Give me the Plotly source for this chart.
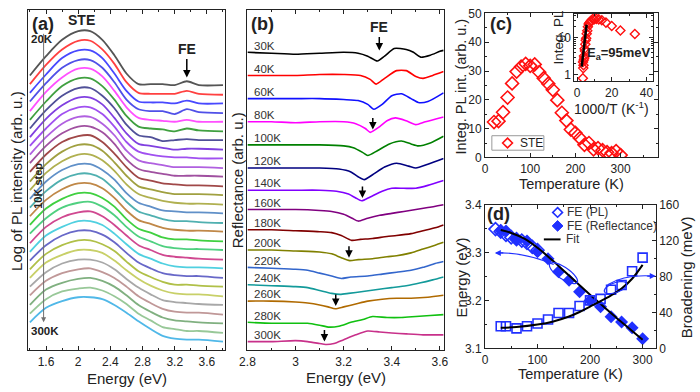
import plotly.graph_objects as go
import numpy as np

FONT = "Liberation Sans, Arial, sans-serif"
W, H = 700, 392

# ---------------- (a) PL spectra (log scale, arb. units, offset) ----------------
E_PL = [1.4, 1.6, 1.8, 2.0, 2.15, 2.3, 2.45, 2.6, 2.75, 2.9, 3.05, 3.2, 3.35, 3.5, 3.8]
T_PL = list(range(20, 301, 10))
PL_LOG = [
    [285, 305, 322, 331, 331, 322, 306, 287, 276, 276, 276, 275, 279, 275, 275],
    [276, 296, 312, 321, 321, 312, 297, 278, 267, 266, 266, 266, 269, 266, 265],
    [267, 286, 303, 311, 311, 303, 287, 269, 258, 257, 257, 256, 259, 256, 256],
    [258, 277, 293, 301, 301, 293, 278, 260, 250, 248, 248, 245, 250, 247, 246],
    [248, 268, 283, 292, 292, 284, 269, 252, 241, 239, 238, 237, 239, 237, 237],
    [239, 258, 274, 282, 282, 274, 260, 243, 232, 230, 229, 227, 230, 228, 227],
    [230, 249, 264, 272, 272, 264, 251, 234, 223, 221, 217, 218, 219, 218, 218],
    [221, 240, 254, 262, 262, 255, 241, 225, 214, 212, 210, 208, 209, 209, 208],
    [212, 230, 245, 252, 252, 245, 232, 216, 206, 203, 201, 200, 200, 199, 199],
    [203, 221, 235, 242, 242, 235, 223, 207, 197, 194, 192, 190, 190, 190, 189],
    [194, 212, 225, 232, 232, 226, 214, 198, 188, 185, 183, 181, 181, 181, 180],
    [185, 203, 216, 222, 223, 216, 204, 190, 179, 176, 173, 172, 171, 171, 170],
    [175, 193, 206, 213, 213, 207, 195, 181, 170, 167, 164, 162, 162, 162, 161],
    [166, 184, 196, 203, 203, 197, 186, 172, 162, 158, 155, 153, 152, 152, 151],
    [157, 175, 187, 193, 193, 187, 177, 163, 153, 149, 145, 144, 143, 143, 142],
    [148, 165, 177, 183, 183, 178, 167, 154, 144, 140, 136, 134, 134, 133, 132],
    [139, 156, 167, 173, 173, 168, 158, 145, 135, 131, 127, 125, 124, 124, 123],
    [130, 147, 157, 163, 163, 158, 149, 136, 126, 122, 117, 115, 115, 114, 113],
    [121, 137, 148, 153, 154, 149, 140, 128, 118, 113, 108, 106, 105, 105, 104],
    [111, 128, 138, 143, 144, 139, 130, 119, 109, 104, 99, 97, 96, 95, 94],
    [102, 119, 128, 134, 134, 130, 121, 110, 100, 95, 90, 87, 86, 86, 85],
    [93, 109, 119, 124, 124, 120, 112, 101, 91, 85, 80, 78, 77, 77, 75],
    [84, 100, 109, 114, 114, 110, 103, 92, 82, 76, 71, 68, 68, 67, 66],
    [75, 91, 99, 104, 104, 101, 93, 83, 74, 67, 62, 59, 58, 58, 56],
    [66, 81, 90, 94, 94, 91, 84, 74, 65, 58, 52, 50, 49, 48, 47],
    [57, 72, 80, 84, 85, 81, 75, 66, 56, 49, 43, 40, 39, 39, 37],
    [47, 63, 70, 74, 75, 72, 66, 57, 47, 40, 34, 31, 30, 29, 28],
    [38, 53, 61, 64, 65, 62, 56, 48, 38, 31, 24, 22, 20, 20, 18],
    [29, 44, 51, 55, 55, 53, 47, 39, 30, 22, 15, 12, 11, 11, 9],
]
PL_COLORS = ["#555555", "#ff4040", "#4848ff", "#5050e8", "#ff50ff", "#40a040", "#505098",
             "#8040e0", "#a050f0", "#b060e0", "#a050a0", "#a04848", "#a0a040", "#b0b050",
             "#6090c8", "#50b0b0", "#c08848", "#40d040", "#50d080", "#d04890", "#50d0e0",
             "#6868c8", "#b0c048", "#c8d068", "#a8a8a8", "#c09898", "#80b080", "#98c898",
             "#50b8e8"]

# ---------------- (b) Reflectance spectra ----------------
REFL_T = [30, 40, 60, 80, 100, 120, 140, 160, 180, 200, 220, 240, 260, 280, 300]
REFL_E = [
    [2.8, 2.9, 3.0, 3.1, 3.2, 3.26, 3.3, 3.34, 3.37, 3.41, 3.46, 3.49, 3.52, 3.56, 3.6, 3.615],
    [2.8, 2.9, 3.0, 3.1, 3.2, 3.27, 3.31, 3.335, 3.37, 3.42, 3.46, 3.5, 3.53, 3.57, 3.615],
    [2.8, 2.9, 3.0, 3.1, 3.2, 3.26, 3.3, 3.325, 3.36, 3.4, 3.44, 3.48, 3.51, 3.55, 3.615],
    [2.8, 2.9, 3.0, 3.1, 3.2, 3.25, 3.29, 3.31, 3.35, 3.38, 3.415, 3.46, 3.5, 3.54, 3.615],
    [2.8, 2.9, 3.0, 3.1, 3.2, 3.24, 3.28, 3.3, 3.34, 3.39, 3.44, 3.48, 3.51, 3.56, 3.615],
    [2.8, 2.9, 3.0, 3.1, 3.18, 3.23, 3.26, 3.286, 3.32, 3.37, 3.42, 3.47, 3.5, 3.55, 3.615],
    [2.8, 2.9, 3.0, 3.1, 3.17, 3.22, 3.25, 3.275, 3.31, 3.36, 3.4, 3.45, 3.5, 3.55, 3.615],
    [2.8, 2.9, 3.0, 3.1, 3.15, 3.2, 3.235, 3.26, 3.3, 3.35, 3.4, 3.45, 3.5, 3.55, 3.615],
    [2.8, 2.9, 3.0, 3.1, 3.15, 3.19, 3.233, 3.27, 3.32, 3.38, 3.42, 3.48, 3.53, 3.58, 3.615],
    [2.8, 2.9, 3.0, 3.1, 3.15, 3.19, 3.225, 3.26, 3.32, 3.38, 3.42, 3.48, 3.53, 3.58, 3.615],
    [2.8, 2.9, 3.0, 3.05, 3.1, 3.15, 3.19, 3.23, 3.3, 3.36, 3.42, 3.48, 3.53, 3.58, 3.615],
    [2.8, 2.9, 3.0, 3.05, 3.1, 3.15, 3.185, 3.22, 3.28, 3.34, 3.4, 3.46, 3.52, 3.57, 3.615],
    [2.8, 2.9, 3.0, 3.05, 3.1, 3.135, 3.165, 3.2, 3.25, 3.3, 3.36, 3.42, 3.48, 3.55, 3.615],
    [2.8, 2.9, 3.0, 3.05, 3.1, 3.14, 3.18, 3.23, 3.28, 3.32, 3.38, 3.44, 3.5, 3.56, 3.615],
    [2.8, 2.9, 3.0, 3.05, 3.1, 3.125, 3.16, 3.2, 3.25, 3.3, 3.35, 3.4, 3.46, 3.53, 3.615],
]
REFL_Y = [
    [309, 308, 307, 308, 309, 308, 305, 300, 305, 313, 312, 309, 304, 306, 310, 311],
    [285, 285, 285, 286, 286, 285, 281, 276, 282, 290, 290, 284, 282, 285, 289],
    [261, 261, 261, 261, 260, 259, 255, 250, 255, 264, 266, 261, 257, 258, 267],
    [237, 237, 236, 237, 237, 235, 230, 226, 232, 238, 241, 238, 234, 237, 242],
    [213, 213, 213, 213, 212, 210, 205, 202, 207, 214, 217, 214, 212, 215, 222],
    [189, 189, 189, 189, 188, 185, 180, 177, 182, 190, 194, 191, 189, 193, 199],
    [166, 166, 166, 166, 165, 162, 158, 155, 159, 165, 168, 168, 168, 171, 176],
    [146, 146, 146, 145, 144, 141, 137, 134, 137, 140, 142, 144, 146, 148, 151],
    [125, 125, 124, 123, 122, 119, 114, 115, 116, 118, 119, 121, 124, 127, 130],
    [104, 104, 103, 102, 100, 96, 93, 94, 95, 97, 98, 101, 105, 109, 112],
    [86, 85, 84, 83, 80, 77, 74.5, 76, 77, 79, 81, 83, 86, 90, 92],
    [68, 67, 66, 65, 62, 59, 58, 59, 61, 63, 65, 67, 70, 73, 76],
    [51, 51, 50, 49, 47, 45, 43, 45, 48, 51, 53, 54, 54, 55, 57],
    [29, 28, 28, 28, 26, 24, 25, 29, 32, 35, 34, 34, 35, 36, 37],
    [9, 9, 10, 9, 7, 6, 7, 11, 16, 20, 19, 18, 17, 16, 16],
]
REFL_COLORS = ["#000000", "#ff0000", "#1010ff", "#ff00ff", "#008000", "#000080", "#8000ff",
               "#800080", "#800000", "#808000", "#3366cc", "#139a9a", "#b06a00", "#10c010",
               "#c8308a"]
REFL_ARROW_IDX = [3, 6, 9, 12, 14]
REFL_ARROW_E = [3.321, 3.278, 3.222, 3.167, 3.12]

# ---------------- (c) integrated STE PL ----------------
STE = [12.3, 12.6, 15.7, 20.8, 25.7, 29.8, 31.5, 32.5, 31.8, 32.3, 29.6, 27.5, 25.6, 23.5,
       19.9, 15.5, 12.8, 9.7, 8.5, 6.7, 4.4, 5.0, 2.8, 3.2, 2.5, 1.8, 1.5, 2.2, 0.8]
FIT_INV_T = [2.7, 5.5]
FIT_INT = [1.65, 22.5]

# ---------------- (d) FE energy and broadening ----------------
T_FE_PL = [20, 30, 40, 50, 60, 70, 80, 90, 100]
E_FE_PL = [3.349, 3.344, 3.337, 3.332, 3.328, 3.325, 3.320, 3.312, 3.305]
T_FE_R = REFL_T
E_FE_R = [3.346, 3.345, 3.328, 3.324, 3.302, 3.287, 3.260, 3.242, 3.218, 3.200, 3.187,
          3.166, 3.155, 3.143, 3.120]
BROAD = [24.7, 24.7, 22.2, 24.7, 27.6, 32.2, 39.4, 39.4, 47.2, 53.4, 55.1, 65.2, 70.5, 85.9, 101]
T_FIT = [30, 50, 75, 100, 125, 150, 175, 200, 225, 250, 275, 300]
E_FIT = [3.347, 3.341, 3.329, 3.310, 3.287, 3.262, 3.237, 3.212, 3.188, 3.164, 3.141, 3.118]
T_BFIT = [30, 60, 100, 130, 160, 180, 200, 220, 240, 260, 280, 300]
B_FIT = [23, 23.8, 26.5, 30, 35.5, 40.5, 46.5, 52.5, 59, 66.5, 77.5, 93]

BLUE = "#2030ff"
RED = "#ff1010"
INK = "#222222"


def px(x, y):
    return x / W, 1 - y / H


def dom_x(a, b):
    return [a / W, b / W]


def dom_y(top, bottom):
    return [1 - bottom / H, 1 - top / H]


fig = go.Figure()

# (a)
for i in range(len(PL_LOG) - 1, -1, -1):
    fig.add_trace(go.Scatter(x=E_PL, y=PL_LOG[i], mode="lines",
                             line=dict(color=PL_COLORS[i], width=1.8, shape="spline", smoothing=0.8),
                             xaxis="x", yaxis="y", showlegend=False))
# (b)
for i in range(len(REFL_Y)):
    fig.add_trace(go.Scatter(x=REFL_E[i], y=REFL_Y[i], mode="lines",
                             line=dict(color=REFL_COLORS[i], width=1.6, shape="spline", smoothing=0.6),
                             xaxis="x2", yaxis="y2", showlegend=False))
# (c)
fig.add_trace(go.Scatter(x=T_PL, y=STE, mode="markers", name="STE",
                         marker=dict(symbol="diamond-open", size=10, color=RED, line=dict(width=1.6)),
                         xaxis="x3", yaxis="y3", showlegend=False))
fig.add_trace(go.Scatter(x=[1000.0 / t for t in T_PL], y=STE, mode="markers",
                         marker=dict(symbol="diamond-open", size=7, color=RED, line=dict(width=1.4)),
                         xaxis="x4", yaxis="y4", showlegend=False))
fig.add_trace(go.Scatter(x=FIT_INV_T, y=FIT_INT, mode="lines", line=dict(color="black", width=2.5),
                         xaxis="x4", yaxis="y4", showlegend=False))
# (d)
fig.add_trace(go.Scatter(x=T_FE_PL, y=E_FE_PL, mode="markers", name="FE (PL)",
                         marker=dict(symbol="diamond-open", size=10, color=BLUE, line=dict(width=1.6)),
                         xaxis="x5", yaxis="y5", showlegend=False))
fig.add_trace(go.Scatter(x=T_FE_R, y=E_FE_R, mode="markers", name="FE (Reflectance)",
                         marker=dict(symbol="diamond", size=10, color=BLUE),
                         xaxis="x5", yaxis="y5", showlegend=False))
fig.add_trace(go.Scatter(x=T_FIT, y=E_FIT, mode="lines", name="Fit",
                         line=dict(color="black", width=2, shape="spline"),
                         xaxis="x5", yaxis="y5", showlegend=False))
fig.add_trace(go.Scatter(x=T_FE_R, y=BROAD, mode="markers",
                         marker=dict(symbol="square-open", size=9, color=BLUE, line=dict(width=1.6)),
                         xaxis="x5", yaxis="y6", showlegend=False))
fig.add_trace(go.Scatter(x=T_BFIT, y=B_FIT, mode="lines",
                         line=dict(color="black", width=2, shape="spline"),
                         xaxis="x5", yaxis="y6", showlegend=False))

tickfont = dict(family=FONT, size=12, color=INK)
base = dict(showline=True, linecolor=INK, linewidth=1, ticks="inside", ticklen=4, tickcolor=INK,
            showgrid=False, zeroline=False, tickfont=tickfont)

fig.update_layout(
    width=W, height=H, margin=dict(l=0, r=0, t=0, b=0),
    paper_bgcolor="white", plot_bgcolor="white", showlegend=False,
    font=dict(family=FONT, color=INK),
    xaxis=dict(base, domain=dom_x(20.7, 220.7), range=[1.38, 3.82], dtick=0.4, tick0=1.6,
               mirror="ticks", anchor="y", minor=dict(ticks="inside", ticklen=2, dtick=0.2, tickcolor=INK)),
    yaxis=dict(base, domain=dom_y(3, 356), range=[0, 353], ticks="", showticklabels=False,
               mirror=True, anchor="x"),
    xaxis2=dict(base, domain=dom_x(244, 444), range=[2.8, 3.616], dtick=0.2, tick0=2.8,
                mirror="ticks", anchor="y2", minor=dict(ticks="inside", ticklen=2, dtick=0.1, tickcolor=INK)),
    yaxis2=dict(base, domain=dom_y(3, 356), range=[0, 353], ticks="", showticklabels=False,
                mirror=True, anchor="x2"),
    xaxis3=dict(base, domain=dom_x(486, 662), range=[0, 382], dtick=100, mirror="ticks", anchor="y3",
                minor=dict(ticks="inside", ticklen=2, dtick=50, tickcolor=INK)),
    yaxis3=dict(base, domain=dom_y(6.7, 156), range=[0, 50], dtick=10, mirror="ticks", anchor="x3",
                minor=dict(ticks="inside", ticklen=2, dtick=5, tickcolor=INK)),
    xaxis4=dict(base, domain=dom_x(577, 657), range=[-1.6, 43.7], dtick=20, mirror="ticks", anchor="y4",
                minor=dict(ticks="inside", ticklen=2, dtick=10, tickcolor=INK)),
    yaxis4=dict(base, domain=dom_y(7, 77), type="log", range=[-0.18, 1.65], tickvals=[1, 10],
                ticktext=["1", "10"], mirror="ticks", anchor="x4",
                minor=dict(ticks="inside", ticklen=2, tickcolor=INK,
                           tickvals=[2, 3, 4, 5, 6, 7, 8, 9, 20, 30, 40])),
    xaxis5=dict(base, domain=dom_x(486, 660), range=[0, 325], dtick=100, mirror="ticks", anchor="y5",
                minor=dict(ticks="inside", ticklen=2, dtick=50, tickcolor=INK)),
    yaxis5=dict(base, domain=dom_y(205, 354), range=[3.1, 3.4], dtick=0.1, tickformat=".1f", anchor="x5",
                minor=dict(ticks="inside", ticklen=2, dtick=0.05, tickcolor=INK)),
    yaxis6=dict(base, range=[0, 160], dtick=40, overlaying="y5", side="right", anchor="x5",
                minor=dict(ticks="inside", ticklen=2, dtick=20, tickcolor=INK)),
)

ann = []
shapes = []


def text(xp, yp, s, size=12, bold=False, angle=0, color=INK, xanchor="center"):
    x, y = px(xp, yp)
    ann.append(dict(x=x, y=y, xref="paper", yref="paper", text=("<b>%s</b>" % s) if bold else s,
                    showarrow=False, textangle=angle, xanchor=xanchor, yanchor="middle",
                    font=dict(family=FONT, size=size, color=color)))


def poly(points, closed=True):
    pts = [px(x, y) for x, y in points]
    return "M " + " L ".join("%.5f,%.5f" % p for p in pts) + (" Z" if closed else "")


def diamond(cx, cy, r):
    return poly([(cx, cy - r), (cx + r, cy), (cx, cy + r), (cx - r, cy)])


# axis titles
text(8.5, 180, "Log of PL intensity (arb. u.)", 15, angle=-90)
text(121, 385, "Energy (eV)", 15)
text(234, 180, "Reflectance (arb. u.)", 15, angle=-90)
text(344, 384, "Energy (eV)", 15)
text(462, 82, "Integ. PL int. (arb. u.)", 14.5, angle=-90)
text(574, 183.5, "Temperature (K)", 14.5)
text(561, 31, "Integ. PL", 13.5, angle=-90)
text(615, 105, "1000/T (K<sup>-1</sup>)", 14)
text(623, 48, "E<sub>a</sub>=95meV", 13, bold=True)
text(462, 280, "Energy (eV)", 15, angle=-90)
text(691, 280, "Broadening (meV)", 15, angle=-90)
text(573, 380.5, "Temperature (K)", 14.5)

# panel labels
text(36, 18, "(a)", 18, bold=True)
text(259, 18, "(b)", 18, bold=True)
text(502, 18, "(c)", 18, bold=True)
text(500, 215, "(d)", 18, bold=True)
text(75, 14, "STE", 14, bold=True)
text(35, 33, "20K", 11.5, bold=True)
text(38, 336, "300K", 11.5, bold=True)
text(31, 185, "10K step", 11, bold=True, angle=-90)

# legend of (c)
shapes.append(dict(type="rect", xref="paper", yref="paper", x0=493 / W, x1=546 / W,
                   y0=1 - 148.5 / H, y1=1 - 133.5 / H, line=dict(color="#999999", width=1),
                   fillcolor="white"))
shapes.append(dict(type="path", path=diamond(509, 141, 5), xref="paper", yref="paper",
                   line=dict(color=RED, width=1.6)))
text(520, 141.5, "STE", 12, xanchor="left")

# legend of (d)
shapes.append(dict(type="path", path=diamond(560, 213, 5), xref="paper", yref="paper",
                   line=dict(color=BLUE, width=1.6)))
shapes.append(dict(type="path", path=diamond(560, 227, 5.5), xref="paper", yref="paper",
                   line=dict(color=BLUE, width=1), fillcolor=BLUE))
shapes.append(dict(type="path", path=poly([(546, 241), (563, 241)], closed=False), xref="paper",
                   yref="paper", line=dict(color="black", width=2)))
text(568, 213, "FE (PL)", 12, color="#333333", xanchor="left")
text(568, 227, "FE (Reflectance)", 12, color="#333333", xanchor="left")
text(567, 241, "Fit", 12, color="#333333", xanchor="left")

# FE arrows
ann.append(dict(x=3.35, y=356 - 73, xref="x", yref="y", text="<b>FE</b>", showarrow=True,
                ax=0, ay=-28, arrowhead=2, arrowsize=1, arrowwidth=1.5, arrowcolor="black",
                font=dict(family=FONT, size=14, color=INK)))
ann.append(dict(x=1.57, y=PL_LOG[-1][0], xref="x", yref="y", text="", showarrow=True,
                ax=0, ay=-290, arrowhead=2, arrowsize=1, arrowwidth=1, arrowcolor="#707070"))
ann.append(dict(x=3.348, y=356 - 45, xref="x2", yref="y2", text="<b>FE</b>", showarrow=True,
                ax=0, ay=-23, arrowhead=2, arrowsize=1, arrowwidth=1.5, arrowcolor="black",
                font=dict(family=FONT, size=14, color=INK)))
for idx, e in zip(REFL_ARROW_IDX, REFL_ARROW_E):
    ann.append(dict(x=e, y=min(REFL_Y[idx]) + 3, xref="x2", yref="y2", text="", showarrow=True,
                    ax=0, ay=-13, arrowhead=2, arrowsize=1, arrowwidth=1.5, arrowcolor="black"))
# temperature labels in (b)
for i, t in enumerate(REFL_T):
    ann.append(dict(x=2.818, y=REFL_Y[i][0] + 7, xref="x2", yref="y2", text="%dK" % t,
                    showarrow=False, xanchor="left", yanchor="middle",
                    font=dict(family=FONT, size=11.5, color="#333333")))


# blue guide arrows in (d)
def ellipse(cx, cy, rx, ry, ang):
    a = np.radians(ang)
    pts = []
    for t in np.linspace(0, 2 * np.pi, 50):
        x = cx + rx * np.cos(t) * np.cos(a) - ry * np.sin(t) * np.sin(a)
        y = cy + rx * np.cos(t) * np.sin(a) + ry * np.sin(t) * np.cos(a)
        pts.append((x, y))
    return poly(pts)


def qcurve(p0, c, p1):
    a, b, d = px(*p0), px(*c), px(*p1)
    return "M %.5f,%.5f Q %.5f,%.5f %.5f,%.5f" % (a[0], a[1], b[0], b[1], d[0], d[1])


for path in [ellipse(566, 276, 17, 6, 35), ellipse(619, 291, 12, 5, -20),
             qcurve((556, 267), (525, 254), (498, 255)), qcurve((611, 288), (628, 277), (658, 279))]:
    shapes.append(dict(type="path", path=path, xref="paper", yref="paper",
                       line=dict(color=BLUE, width=1.2)))
for (xp, yp, dx) in [(496, 255, 10), (660, 279, -10)]:
    x, y = px(xp, yp)
    ann.append(dict(x=x, y=y, xref="paper", yref="paper", text="", showarrow=True, ax=dx, ay=0,
                    arrowhead=2, arrowsize=1, arrowwidth=1.2, arrowcolor=BLUE))

fig.update_layout(annotations=ann, shapes=shapes)
fig.write_html("out.html")
